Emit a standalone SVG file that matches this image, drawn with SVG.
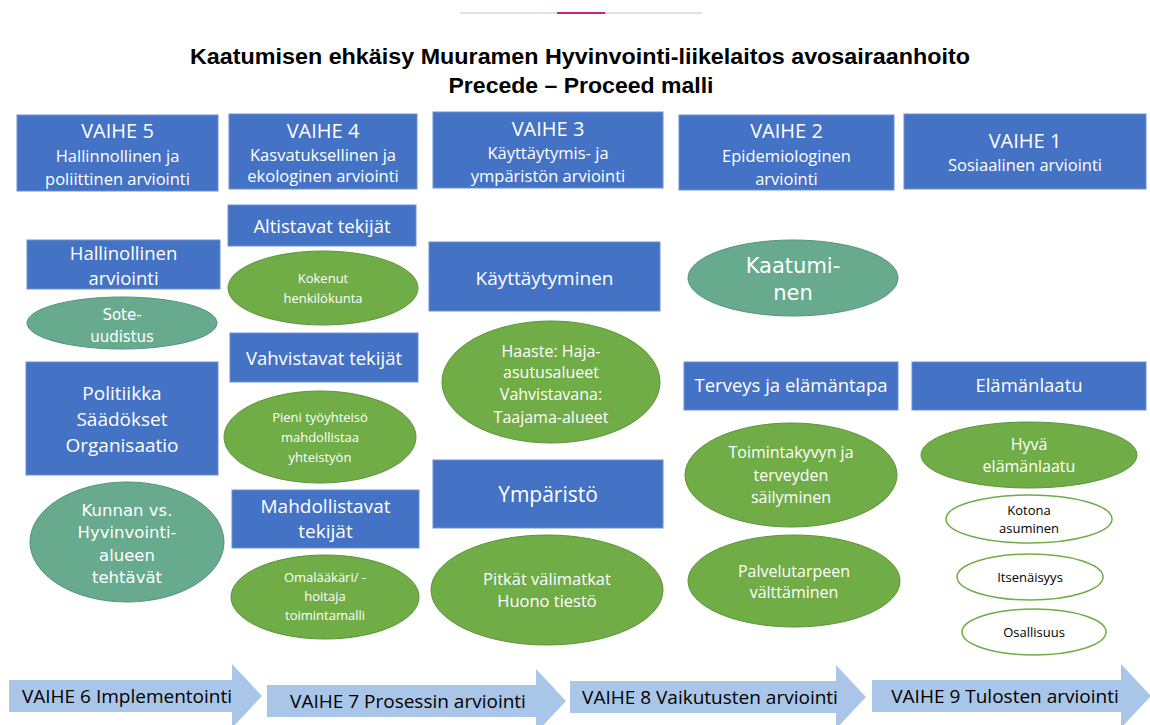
<svg xmlns="http://www.w3.org/2000/svg" width="1150" height="725" viewBox="0 0 1150 725">
<style>
.box{fill:#4472C4;stroke:#6e8fd0;stroke-width:1}
.g{fill:#70AD47;stroke:#5b9438;stroke-width:1}
.t{fill:#67AA8D;stroke:#529478;stroke-width:1}
.w{fill:#ffffff;stroke:#70AD47;stroke-width:1.5}
.arr{fill:#A9C6E8}
text{font-family:"Open Sans","Liberation Sans",sans-serif;text-anchor:middle;fill:#ffffff}
.dk{fill:#000000}
.cg{font-family:"DejaVu Sans","Liberation Sans",sans-serif}
.h{font-size:20px}
.s{font-size:16.5px}
.m{font-size:18.5px}
.sm{font-size:13px}
.at{font-size:19px}
</style>
<rect width="1150" height="725" fill="#ffffff"/>
<g id="topline">
<line x1="460" y1="13" x2="702" y2="13" stroke="#e2e2e2" stroke-width="2"/>
<line x1="557" y1="13" x2="605" y2="13" stroke="#c0267a" stroke-width="2"/>
</g>
<g id="title">
<text x="580" y="64" style="font-family:'Liberation Sans',sans-serif;font-weight:bold;font-size:22px;fill:#000" textLength="780" lengthAdjust="spacingAndGlyphs">Kaatumisen ehkäisy Muuramen Hyvinvointi-liikelaitos avosairaanhoito</text>
<text x="581" y="93" style="font-family:'Liberation Sans',sans-serif;font-weight:bold;font-size:22px;fill:#000" textLength="265" lengthAdjust="spacingAndGlyphs">Precede – Proceed malli</text>
</g>

<g id="vaihe5"><rect class="box" x="17" y="115" width="201" height="76"/>
<text x="117.5" y="138" class="h">VAIHE 5</text><text x="117.5" y="162" class="s">Hallinnollinen ja</text><text x="117.5" y="185" class="s">poliittinen arviointi</text></g>
<g id="vaihe4"><rect class="box" x="229" y="114" width="188" height="75"/>
<text x="323" y="138" class="h">VAIHE 4</text><text x="323" y="161" class="s">Kasvatuksellinen ja</text><text x="323" y="182" class="s">ekologinen arviointi</text></g>
<g id="vaihe3"><rect class="box" x="433" y="112" width="230" height="76"/>
<text x="548" y="136" class="h">VAIHE 3</text><text x="548" y="159" class="s">Käyttäytymis- ja</text><text x="548" y="182" class="s">ympäristön arviointi</text></g>
<g id="vaihe2"><rect class="box" x="679" y="115" width="215" height="75"/>
<text x="786.5" y="138" class="h">VAIHE 2</text><text x="786.5" y="162" class="s">Epidemiologinen</text><text x="786.5" y="185" class="s">arviointi</text></g>
<g id="vaihe1"><rect class="box" x="904" y="114" width="242" height="75"/>
<text x="1025" y="148" class="h">VAIHE 1</text><text x="1025" y="171" class="s">Sosiaalinen arviointi</text></g>

<g id="hallinollinen"><rect class="box" x="27" y="240" width="193" height="49"/>
<text x="123.5" y="260" class="m">Hallinollinen</text><text x="123.5" y="285" class="m">arviointi</text></g>
<g id="sote"><ellipse class="t" cx="122" cy="323" rx="95" ry="26"/>
<text x="122" y="320" class="cg" style="font-size:15px">Sote-</text><text x="122" y="342" class="cg" style="font-size:15px">uudistus</text></g>
<g id="politiikka"><rect class="box" x="26" y="362" width="192" height="113"/>
<text x="122" y="400" style="font-size:19px">Politiikka</text><text x="122" y="426" style="font-size:19px">Säädökset</text><text x="122" y="452" style="font-size:19px">Organisaatio</text></g>
<g id="kunnan"><ellipse class="t" cx="127" cy="542" rx="97" ry="60"/>
<text x="127" y="516" class="cg" style="font-size:16.5px">Kunnan vs.</text><text x="127" y="538" class="cg" style="font-size:16.5px">Hyvinvointi-</text><text x="127" y="561" class="cg" style="font-size:16.5px">alueen</text><text x="127" y="583" class="cg" style="font-size:16.5px">tehtävät</text></g>

<g id="altistavat"><rect class="box" x="228" y="205" width="188" height="41"/>
<text x="322" y="233" class="m">Altistavat tekijät</text></g>
<g id="kokenut"><ellipse class="g" cx="323" cy="288" rx="95" ry="37"/>
<text x="323" y="283" class="sm">Kokenut</text><text x="323" y="303" class="sm">henkilökunta</text></g>
<g id="vahvistavat"><rect class="box" x="230" y="333" width="188" height="49"/>
<text x="324" y="365" class="m">Vahvistavat tekijät</text></g>
<g id="pieni"><ellipse class="g" cx="320" cy="437" rx="96" ry="46"/>
<text x="320" y="422" class="sm">Pieni työyhteisö</text><text x="320" y="442" class="sm">mahdollistaa</text><text x="320" y="462" class="sm">yhteistyön</text></g>
<g id="mahdollistavat"><rect class="box" x="232" y="490" width="187" height="58"/>
<text x="325.5" y="513" style="font-size:19px">Mahdollistavat</text><text x="325.5" y="538" style="font-size:19px">tekijät</text></g>
<g id="omalaakari"><ellipse class="g" cx="325" cy="597" rx="94" ry="42"/>
<text x="325" y="582" class="sm">Omalääkäri/ -</text><text x="325" y="601" class="sm">hoitaja</text><text x="325" y="620" class="sm">toimintamalli</text></g>

<g id="kayttaytyminen"><rect class="box" x="429" y="242" width="231" height="69"/>
<text x="544.5" y="285" style="font-size:19px">Käyttäytyminen</text></g>
<g id="haaste"><ellipse class="g" cx="551" cy="382" rx="109" ry="61"/>
<text x="551" y="357" style="font-size:16px">Haaste: Haja-</text><text x="551" y="378" style="font-size:16px">asutusalueet</text><text x="551" y="400" style="font-size:16px">Vahvistavana:</text><text x="551" y="423" style="font-size:16px">Taajama-alueet</text></g>
<g id="ymparisto"><rect class="box" x="433" y="460" width="230" height="68"/>
<text x="548" y="502" style="font-size:21px">Ympäristö</text></g>
<g id="pitkat"><ellipse class="g" cx="547" cy="590" rx="116" ry="55"/>
<text x="547" y="585" style="font-size:16.5px">Pitkät välimatkat</text><text x="547" y="607" style="font-size:16.5px">Huono tiestö</text></g>

<g id="kaatuminen"><ellipse class="t" cx="793" cy="278" rx="105" ry="38"/>
<text x="793" y="273" class="cg" style="font-size:21px">Kaatumi-</text><text x="793" y="300" class="cg" style="font-size:21px">nen</text></g>
<g id="terveys"><rect class="box" x="684" y="362" width="214" height="48"/>
<text x="791" y="392" class="m">Terveys ja elämäntapa</text></g>
<g id="toimintakyky"><ellipse class="g" cx="791" cy="475" rx="106" ry="52"/>
<text x="791" y="458" style="font-size:16px">Toimintakyvyn ja</text><text x="791" y="481" style="font-size:16px">terveyden</text><text x="791" y="503" style="font-size:16px">säilyminen</text></g>
<g id="palvelutarve"><ellipse class="g" cx="794" cy="581" rx="106" ry="46"/>
<text x="794" y="577" style="font-size:16px">Palvelutarpeen</text><text x="794" y="598" style="font-size:16px">välttäminen</text></g>

<g id="elamanlaatu"><rect class="box" x="912" y="362" width="234" height="48"/>
<text x="1029" y="392" class="m">Elämänlaatu</text></g>
<g id="hyva"><ellipse class="g" cx="1029" cy="455" rx="108" ry="33"/>
<text x="1029" y="450" style="font-size:16px">Hyvä</text><text x="1029" y="472" style="font-size:16px">elämänlaatu</text></g>
<g id="kotona"><ellipse class="w" cx="1029" cy="519" rx="83" ry="24"/>
<text x="1029" y="515" class="sm dk">Kotona</text><text x="1029" y="533" class="sm dk">asuminen</text></g>
<g id="itsenaisyys"><ellipse class="w" cx="1030" cy="577" rx="73" ry="23"/>
<text x="1030" y="582" class="sm dk">Itsenäisyys</text></g>
<g id="osallisuus"><ellipse class="w" cx="1034" cy="632" rx="72" ry="23"/>
<text x="1034" y="637" class="sm dk">Osallisuus</text></g>

<g id="vaihe6"><polygon class="arr" points="9,680 232,680 232,664 262,696 232,728 232,712 9,712"/>
<text x="127" y="703" class="dk at">VAIHE 6 Implementointi</text></g>
<g id="vaihe7"><polygon class="arr" points="267,685 536,685 536,669 566,701 536,733 536,717 267,717"/>
<text x="408" y="708" class="dk at">VAIHE 7 Prosessin arviointi</text></g>
<g id="vaihe8"><polygon class="arr" points="570,681 836,681 836,665 866,697 836,729 836,713 570,713"/>
<text x="710" y="704" class="dk at">VAIHE 8 Vaikutusten arviointi</text></g>
<g id="vaihe9"><polygon class="arr" points="872,680 1121,680 1121,664 1151,696 1121,728 1121,712 872,712"/>
<text x="1005" y="703" class="dk at">VAIHE 9 Tulosten arviointi</text></g>
<g id="connectors"></g>
</svg>
